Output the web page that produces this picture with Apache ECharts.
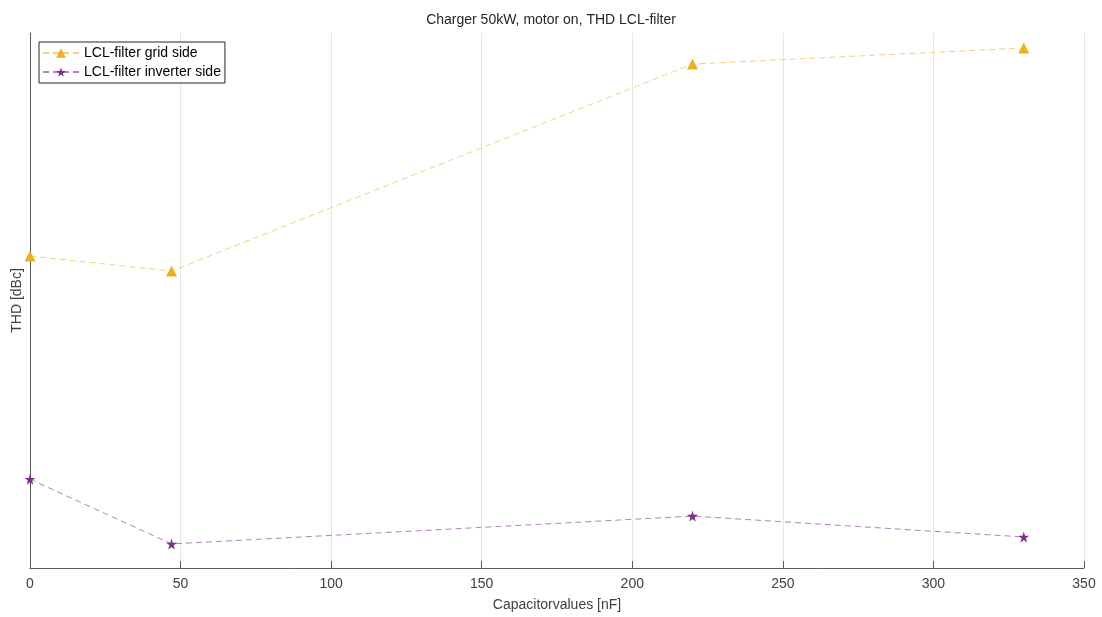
<!DOCTYPE html>
<html>
<head>
<meta charset="utf-8">
<script src="https://cdn.jsdelivr.net/npm/echarts@6/dist/echarts.min.js"></script>
<style>html,body{margin:0;padding:0;background:#fff;}#c{width:1102px;height:617px;}</style>
</head>
<body>
<div id="c"></div>
<script>
const capacitorValues = [0, 47, 220, 330];
const gridSide = [58.3, 55.5, 94.2, 97.2];
const inverterSide = [16.6, 4.5, 9.7, 5.8];
const xTicks = [0, 50, 100, 150, 200, 250, 300, 350];

const starPath = 'path://M50,0 L61,35 L98,35 L68,57 L79,91 L50,70 L21,91 L32,57 L2,35 L39,35 Z';
const font = 'Liberation Sans, Arial, Helvetica, sans-serif';
const chart = echarts.init(document.getElementById('c'));
chart.setOption({
  animation: false,
  title: {
    text: 'Charger 50kW, motor on, THD LCL-filter',
    left: 'center', top: 8,
    textStyle: {fontFamily: font, fontSize: 14, fontWeight: 'normal', color: '#262626'}
  },
  legend: {
    left: 39, top: 42, orient: 'vertical',
    backgroundColor: '#fff', borderColor: '#262626', borderWidth: 1,
    padding: [4, 4, 4, 3], itemGap: 5, itemWidth: 36, itemHeight: 12,
    textStyle: {fontFamily: font, fontSize: 14, color: '#000'},
    data: ['LCL-filter grid side', 'LCL-filter inverter side']
  },
  grid: {left: 30, right: 18, top: 33, bottom: 49},
  xAxis: {
    type: 'value', min: 0, max: 350, interval: 50,
    name: 'Capacitorvalues [nF]', nameLocation: 'middle', nameGap: 30,
    nameTextStyle: {fontFamily: font, fontSize: 14, color: '#404040'},
    axisLine: {lineStyle: {color: '#595959'}},
    axisTick: {inside: true, length: 7, lineStyle: {color: '#595959'}},
    axisLabel: {fontFamily: font, fontSize: 14, color: '#404040', margin: 9,
      formatter: v => xTicks.includes(v) ? String(v) : ''},
    splitLine: {show: true, lineStyle: {color: '#e6e6e6'}}
  },
  yAxis: {
    type: 'value', min: 0, max: 100,
    name: 'THD [dBc]', nameLocation: 'middle', nameGap: 6, nameRotate: 90,
    nameTextStyle: {fontFamily: font, fontSize: 14, color: '#404040'},
    axisLine: {show: true, lineStyle: {color: '#595959'}},
    axisTick: {show: false}, axisLabel: {show: false},
    splitLine: {show: false}
  },
  series: [
    {
      name: 'LCL-filter grid side', type: 'line',
      data: capacitorValues.map((x, i) => [x, gridSide[i]]),
      symbol: 'triangle', symbolSize: 11,
      itemStyle: {color: '#EDB120'},
      lineStyle: {type: [6, 4], width: 1, color: 'rgba(237,177,32,0.6)'}
    },
    {
      name: 'LCL-filter inverter side', type: 'line',
      data: capacitorValues.map((x, i) => [x, inverterSide[i]]),
      symbol: starPath, symbolSize: 11,
      itemStyle: {color: '#7E2F8E'},
      lineStyle: {type: [6, 4], width: 1, color: 'rgba(126,47,142,0.6)'}
    }
  ]
});
</script>
</body>
</html>
